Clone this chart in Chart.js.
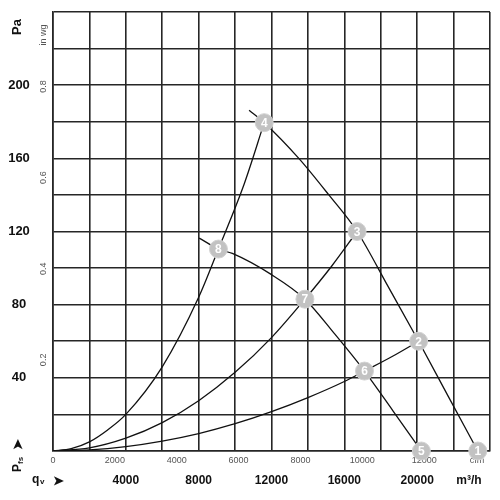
<!DOCTYPE html>
<html>
<head>
<meta charset="utf-8">
<script src="https://cdn.jsdelivr.net/npm/chart.js@4"></script>
<style>
  html, body { margin: 0; padding: 0; background: #fff; }
  #wrap { width: 500px; height: 500px; }
</style>
</head>
<body>
<div id="wrap"><canvas id="grafico" width="500" height="500"></canvas></div>
<script>
// tick labels
const flowTicks = [4000, 8000, 12000, 16000, 20000];       // m³/h
const cfmTicks = [0, 2000, 4000, 6000, 8000, 10000, 12000]; // cfm
const paTicks = [40, 80, 120, 160, 200];                   // Pa
const inwgTicks = [0.2, 0.4, 0.6, 0.8];                    // in wg

// fan curves (q in m³/h, p in Pa)
const fanHighQ = [10770, 11600, 13500, 15150, 16700, 18400, 20080, 21700, 23330];
const fanHighP = [186.3, 179.5, 160, 140, 120, 90, 60, 30, 0];
const fanLowQ = [8030, 9085, 9850, 12000, 13836, 15470, 17107, 18670, 20230];
const fanLowP = [116.4, 110.4, 108, 96.4, 83, 64, 43.7, 22, 0];

// system curves
const sys1Q = [0, 1000, 2000, 3000, 4000, 6000, 8000, 9085, 10500, 11600];
const sys1P = [0, 1.3, 5, 11.5, 20, 46, 84, 110.4, 146, 179.5];
const sys2Q = [0, 2000, 4000, 6000, 8000, 10000, 12000, 13836, 15300, 16700];
const sys2P = [0, 1.7, 7, 15.5, 27.5, 43, 62, 83, 101, 120];
const sys3Q = [0, 2000, 4000, 6000, 8000, 10000, 12000, 14000, 16000, 17107, 18600, 20080];
const sys3P = [0, 0.6, 2.4, 5.4, 9.5, 14.9, 21.5, 29.2, 38, 43.7, 51.5, 60];

// operating points
const markerNums = [1, 2, 3, 4, 5, 6, 7, 8];
const markerQ = [23330, 20080, 16700, 11600, 20230, 17107, 13836, 9085];
const markerP = [0, 60, 120, 179.5, 0, 43.7, 83, 110.4];

const CFM_TO_M3H = 1.699;
const INWG_TO_PA = 249.09;
const FONTE = 'Liberation Sans, Arial, sans-serif';

const pares = (qs, ps) => qs.map((q, i) => ({ x: q, y: ps[i] }));

function curva(qs, ps) {
  return {
    data: pares(qs, ps),
    showLine: true,
    borderColor: '#111',
    borderWidth: 1.3,
    pointRadius: 0,
    cubicInterpolationMode: 'monotone',
    order: 2
  };
}

// textos dos eixos
const textosEixos = {
  id: 'textosEixos',
  beforeDatasetsDraw(chart) {
    const { ctx, chartArea, scales } = chart;
    const x = scales.x, y = scales.y;
    ctx.save();
    ctx.textAlign = 'center';
    ctx.textBaseline = 'middle';

    // Pa
    ctx.fillStyle = '#111';
    ctx.font = 'bold 13px ' + FONTE;
    paTicks.forEach(v => ctx.fillText(String(v), 19, y.getPixelForValue(v)));

    // m³/h
    ctx.font = 'bold 12px ' + FONTE;
    flowTicks.forEach(v => ctx.fillText(String(v), x.getPixelForValue(v), 481));
    ctx.fillText('m³/h', chartArea.right - 21, 481);

    // qv
    ctx.textAlign = 'left';
    ctx.font = 'bold 12px ' + FONTE;
    ctx.fillText('q', 32, 480);
    ctx.font = 'bold 8px ' + FONTE;
    ctx.fillText('v', 40, 482);
    ctx.font = 'bold 13px ' + FONTE;
    ctx.fillText('➤', 53, 481);

    // cfm
    ctx.textAlign = 'center';
    ctx.fillStyle = '#555';
    ctx.font = '9px ' + FONTE;
    cfmTicks.forEach(v => ctx.fillText(String(v), x.getPixelForValue(v * CFM_TO_M3H), 461));
    ctx.fillText('cfm', chartArea.right - 13, 461);

    // rotacionados
    const rot = (txt, px, py, font, cor) => {
      ctx.save();
      ctx.translate(px, py);
      ctx.rotate(-Math.PI / 2);
      ctx.font = font;
      ctx.fillStyle = cor;
      ctx.fillText(txt, 0, 0);
      ctx.restore();
    };
    inwgTicks.forEach(v => rot(String(v), 43.5, y.getPixelForValue(v * INWG_TO_PA), '9px ' + FONTE, '#555'));
    rot('in wg', 43.5, 35, '9px ' + FONTE, '#555');
    rot('Pa', 17.5, 27, 'bold 13px ' + FONTE, '#111');

    // Pfs
    ctx.save();
    ctx.translate(18, 472);
    ctx.rotate(-Math.PI / 2);
    ctx.textAlign = 'left';
    ctx.fillStyle = '#111';
    ctx.font = 'bold 12px ' + FONTE;
    ctx.fillText('P', 0, 0);
    ctx.font = 'bold 8px ' + FONTE;
    ctx.fillText('fs', 8, 3);
    ctx.font = 'bold 13px ' + FONTE;
    ctx.fillText('➤', 22, 0);
    ctx.restore();

    ctx.restore();
  },
  afterDatasetsDraw(chart) {
    const { ctx } = chart;
    const meta = chart.getDatasetMeta(chart.data.datasets.length - 1);
    ctx.save();
    ctx.fillStyle = '#fff';
    ctx.font = 'bold 12px ' + FONTE;
    ctx.textAlign = 'center';
    ctx.textBaseline = 'middle';
    meta.data.forEach((pt, i) => ctx.fillText(String(markerNums[i]), pt.x, pt.y + 1));
    ctx.restore();
  }
};

const ctx = document.getElementById('grafico').getContext('2d');
new Chart(ctx, {
  type: 'scatter',
  data: {
    datasets: [
      curva(fanHighQ, fanHighP),
      curva(fanLowQ, fanLowP),
      curva(sys1Q, sys1P),
      curva(sys2Q, sys2P),
      curva(sys3Q, sys3P),
      {
        data: pares(markerQ, markerP),
        showLine: false,
        pointRadius: 9,
        pointHoverRadius: 9,
        backgroundColor: '#c2c2c2',
        borderColor: '#d2d2d2',
        borderWidth: 1,
        clip: false,
        order: 1
      }
    ]
  },
  options: {
    responsive: false,
    animation: false,
    events: [],
    layout: { padding: { left: 53, right: 8, top: 12, bottom: 49 } },
    plugins: {
      legend: { display: false },
      tooltip: { enabled: false },
      title: { display: false }
    },
    scales: {
      x: {
        type: 'linear',
        min: 0,
        max: 24000,
        ticks: { stepSize: 2000, display: false, autoSkip: false },
        grid: { color: '#262626', lineWidth: 1.6, drawTicks: false },
        border: { color: '#262626', width: 1.6 }
      },
      y: {
        type: 'linear',
        min: 0,
        max: 240,
        ticks: { stepSize: 20, display: false, autoSkip: false },
        grid: { color: '#262626', lineWidth: 1.6, drawTicks: false },
        border: { color: '#262626', width: 1.6 }
      }
    }
  },
  plugins: [textosEixos]
});
</script>
</body>
</html>
